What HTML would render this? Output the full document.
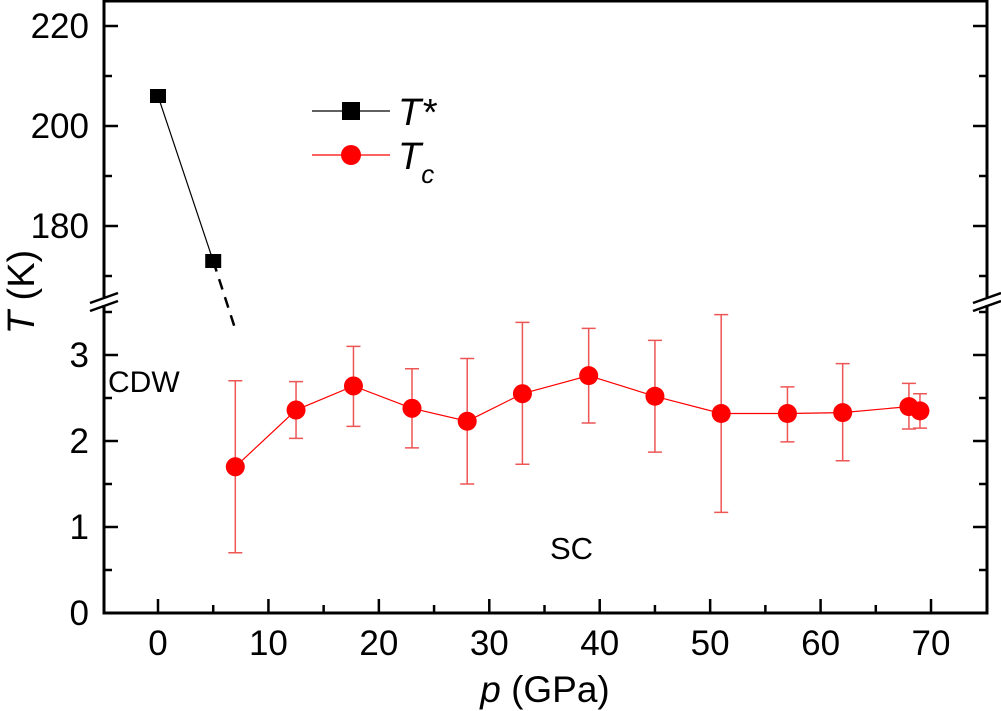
<!DOCTYPE html>
<html><head><meta charset="utf-8"><style>
body{margin:0;background:#fff}
svg{display:block;font-family:"Liberation Sans",Arial,sans-serif}
</style></head><body>
<svg id="chart" width="1001" height="711" viewBox="0 0 1001 711"></svg>
<script>
const tstarP=[0,5];
const tstarT=[206,173];
const tcP=[7,12.5,17.7,23,28,33,39,45,51,57,62,68,69];
const tcT=[1.7,2.36,2.64,2.38,2.23,2.55,2.76,2.52,2.32,2.32,2.33,2.4,2.35];
const tcLo=[0.7,2.03,2.17,1.92,1.5,1.73,2.21,1.87,1.17,1.99,1.77,2.14,2.15];
const tcHi=[2.7,2.69,3.1,2.84,2.96,3.38,3.31,3.17,3.47,2.63,2.9,2.67,2.55];
const xTicks=[0,10,20,30,40,50,60,70];
const yLowTicks=[0,1,2,3];
const yHighTicks=[180,200,220];

const svg=document.getElementById('chart');
const NS='http://www.w3.org/2000/svg';
const L=104,R=987,B=613,T=1;
const X=p=>158+(p)*11.043;
const YL=v=>613-v*86.0;
const YH=v=>126-(v-200)*5.0;
function mk(tag,attrs,parent){const e=document.createElementNS(NS,tag);for(const k in attrs)e.setAttribute(k,attrs[k]);(parent||svg).appendChild(e);return e;}

let f=mk('path',{d:`M${L},${T}H${R}V${B}H${L}Z`,fill:'none',stroke:'#000','stroke-width':3});

for(const x of [L,R]){
  let g=mk('rect',{x:x-8,y:297,width:16,height:8,fill:'#fff'});
  
  for(const dy of [-4,4]){
    let s=mk('line',{x1:x-14,y1:307+dy,x2:x+14,y2:297+dy,stroke:'#000','stroke-width':2.5});
    
  }
}
for(let v=-5;v<=75;v+=5){
  const major=v%10===0; const x=X(v);
  if(x<L+2||x>R-2)continue;
  let t=mk('line',{x1:x,y1:B,x2:x,y2:B-(major?14:8),stroke:'#000','stroke-width':2.5});
  
}
xTicks.forEach(v=>{let t=mk('text',{x:X(v),y:655,'font-size':35,'text-anchor':'middle'});t.textContent=v;
  });
for(let v=0.5;v<=3.5;v+=0.5){const y=YL(v);const major=v%1===0;
  for(const [x,d] of [[L,1],[R,-1]]){let t=mk('line',{x1:x,y1:y,x2:x+d*(major?14:8),y2:y,stroke:'#000','stroke-width':2.5});
  }}
yLowTicks.forEach(v=>{let t=mk('text',{x:89,y:YL(v)+12,'font-size':35,'text-anchor':'end'});t.textContent=v;
  });
for(let v=170;v<=220;v+=10){const y=YH(v);const major=v%20===0;
  for(const [x,d] of [[L,1],[R,-1]]){let t=mk('line',{x1:x,y1:y,x2:x+d*(major?14:8),y2:y,stroke:'#000','stroke-width':2.5});
  }}
yHighTicks.forEach(v=>{let t=mk('text',{x:89,y:YH(v)+12,'font-size':35,'text-anchor':'end'});t.textContent=v;
  });

let xt=mk('text',{x:545,y:702,'font-size':37,'text-anchor':'middle'});
xt.innerHTML='<tspan font-style="italic">p</tspan> (GPa)';

let yt=mk('text',{x:0,y:0,'font-size':38,'text-anchor':'middle',transform:'translate(34,292) rotate(-90)'});
yt.innerHTML='<tspan font-style="italic">T</tspan> (K)';


let tl=mk('line',{x1:X(tstarP[0]),y1:YH(tstarT[0]),x2:X(tstarP[1]),y2:YH(tstarT[1]),stroke:'#000','stroke-width':1.2});

let dl=mk('line',{x1:X(tstarP[1]),y1:YH(tstarT[1]),x2:X(7),y2:YL(3.3),stroke:'#000','stroke-width':2.5,'stroke-dasharray':'11,8'});

tstarP.forEach((p,i)=>{let r=mk('rect',{x:X(p)-8,y:YH(tstarT[i])-7,width:16,height:14,fill:'#000'});
  });

let pts=tcP.map((p,i)=>`${X(p)},${YL(tcT[i])}`).join(' ');
let pl=mk('polyline',{points:pts,fill:'none',stroke:'#f00','stroke-width':1.2});

tcP.forEach((p,i)=>{const x=X(p);
  let e=mk('path',{d:`M${x},${YL(tcLo[i])}V${YL(tcHi[i])}M${x-7},${YL(tcLo[i])}H${x+7}M${x-7},${YL(tcHi[i])}H${x+7}`,stroke:'#e55','stroke-width':1.5,fill:'none'});
  });
tcP.forEach((p,i)=>{let c=mk('circle',{cx:X(p),cy:YL(tcT[i]),r:9.5,fill:'#f00'});
  });

let l1=mk('line',{x1:312,y1:111,x2:390,y2:111,stroke:'#000','stroke-width':1.2});

let l1s=mk('rect',{x:342,y:102,width:18,height:18,fill:'#000'});

let l1t=mk('text',{x:398,y:125,'font-size':38,'font-style':'italic'});l1t.textContent='T*';

let l2=mk('line',{x1:312,y1:155,x2:390,y2:155,stroke:'#f00','stroke-width':1.2});

let l2c=mk('circle',{cx:351,cy:155,r:10,fill:'#f00'});

let l2t=mk('text',{x:398,y:169,'font-size':38,'font-style':'italic'});
l2t.innerHTML='T<tspan font-size="26" dy="14">c</tspan>';


let cdw=mk('text',{x:108,y:392,'font-size':30});cdw.textContent='CDW';

let sc=mk('text',{x:550,y:559,'font-size':31});sc.textContent='SC';

</script>
</body></html>
